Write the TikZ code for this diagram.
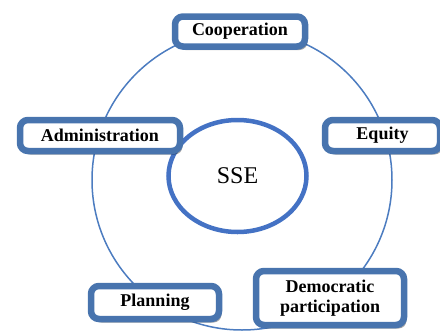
\documentclass[tikz,border=0pt]{standalone}
\usepackage{fontspec}
\setmainfont{Liberation Serif}
\usetikzlibrary{shadows,shapes.geometric}
\definecolor{boxblue}{RGB}{72,116,174}
\definecolor{ringblue}{RGB}{76,124,192}
\definecolor{sseblue}{RGB}{68,114,196}
\begin{document}
\begin{tikzpicture}[x=1pt,y=-1pt,
  item/.style={draw=boxblue, line width=6.5pt, rounded corners=8pt, fill=white,
    align=center, inner sep=0pt,
    font=\fontsize{18}{19.5}\selectfont\bfseries,
    drop shadow={shadow xshift=2.5pt, shadow yshift=-3.5pt, opacity=0.35, fill=black}},
  ring/.style={draw=ringblue, line width=1.5pt, circle, inner sep=0pt},
  core/.style={draw=sseblue, line width=4.5pt, ellipse, fill=white, inner sep=0pt,
    font=\fontsize{24}{26}\selectfont}]
\useasboundingbox (0,0) rectangle (440,333);
\clip (0,0) rectangle (440,333);
\node[ring, minimum size=300pt] (ring) at (242,180) {};
\node[core, minimum width=138pt, minimum height=112pt] (sse) at (237.5,176) {SSE};
\node[item, minimum width=130pt, minimum height=30pt] (coop) at (240,31.5) {Cooperation};
\node[item, minimum width=160pt, minimum height=31pt] (admin) at (100,135.5) {Administration};
\node[item, minimum width=115pt, minimum height=31pt] (equity) at (382.5,135.5) {Equity};
\node[item, minimum width=128pt, minimum height=33pt] (plan) at (155,302.5) {Planning};
\node[item, minimum width=148pt, minimum height=54pt] (demo) at (330,298) {Democratic\\participation};
\end{tikzpicture}
\end{document}
